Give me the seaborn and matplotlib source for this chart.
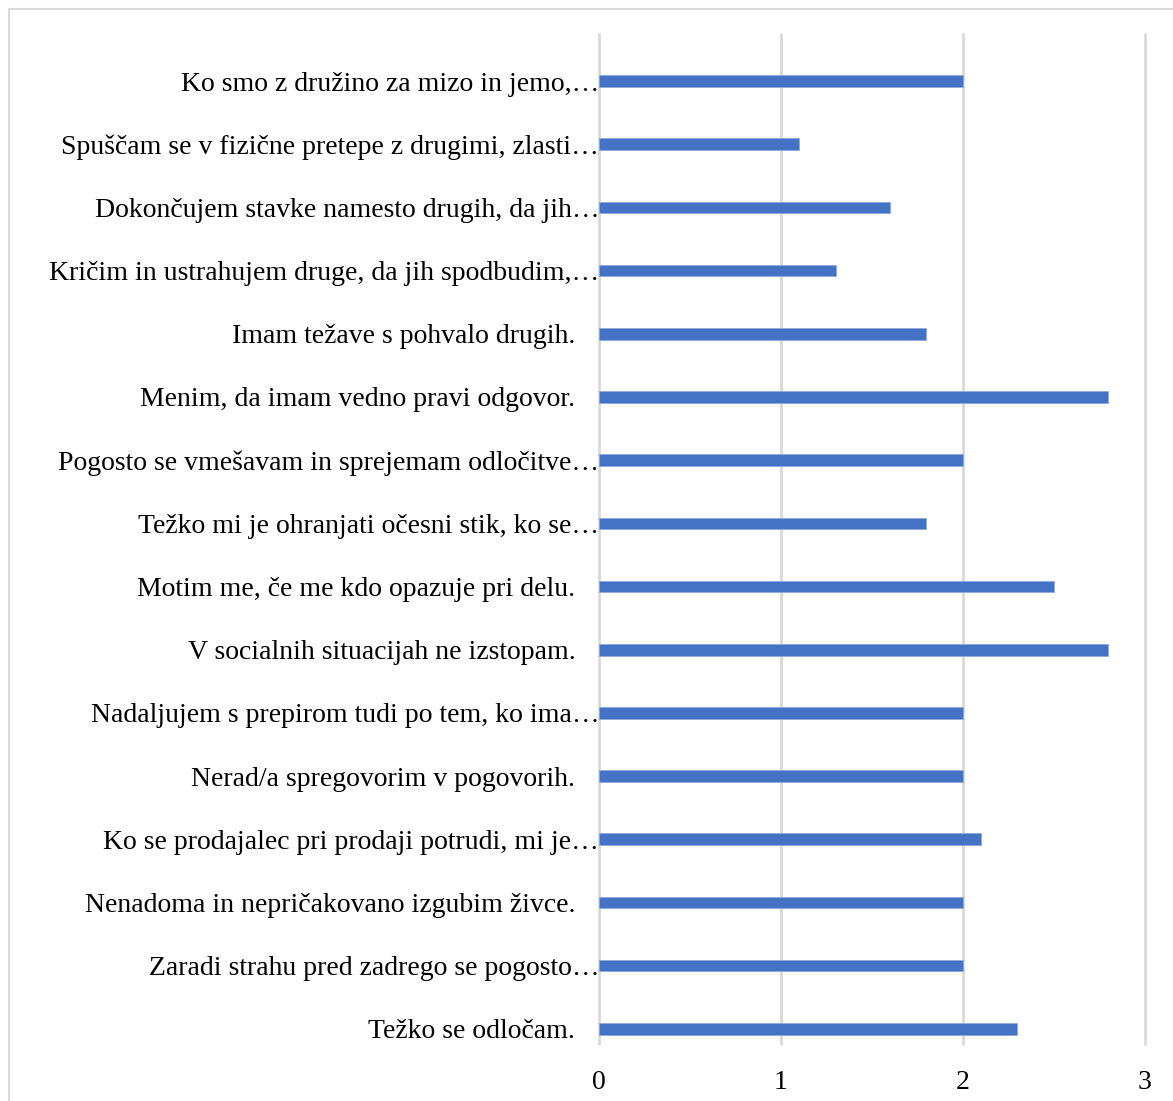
import matplotlib
matplotlib.use("Agg")
import matplotlib.pyplot as plt
import matplotlib.transforms as mtransforms
from matplotlib.patches import Rectangle
import seaborn as sns
import pandas as pd

# Survey statements (top to bottom) and their mean scores
statements = [
    "Ko smo z družino za mizo in jemo,…",
    "Spuščam se v fizične pretepe z drugimi, zlasti…",
    "Dokončujem stavke namesto drugih, da jih…",
    "Kričim in ustrahujem druge, da jih spodbudim,…",
    "Imam težave s pohvalo drugih.",
    "Menim, da imam vedno pravi odgovor.",
    "Pogosto se vmešavam in sprejemam odločitve…",
    "Težko mi je ohranjati očesni stik, ko se…",
    "Motim me, če me kdo opazuje pri delu.",
    "V socialnih situacijah ne izstopam.",
    "Nadaljujem s prepirom tudi po tem, ko ima…",
    "Nerad/a spregovorim v pogovorih.",
    "Ko se prodajalec pri prodaji potrudi, mi je…",
    "Nenadoma in nepričakovano izgubim živce.",
    "Zaradi strahu pred zadrego se pogosto…",
    "Težko se odločam.",
]
scores = [2.0, 1.1, 1.6, 1.3, 1.8, 2.8, 2.0, 1.8, 2.5, 2.8, 2.0, 2.0, 2.1, 2.0, 2.0, 2.3]
x_ticks = [0, 1, 2, 3]

df = pd.DataFrame({"statement": statements, "score": scores})

sns.set_theme(style="white")
plt.rcParams["font.family"] = ["Liberation Serif", "DejaVu Serif"]

W, H = 1173, 1101
fig = plt.figure(figsize=(W / 100, H / 100), dpi=100)
ax = fig.add_axes([599.3 / W, 1 - 1044 / H, (1144.5 - 599.3) / W, (1044 - 34) / H])

sns.barplot(data=df, y="statement", x="score", orient="h", order=statements,
            color="#4472C4", saturation=1, width=0.185, ax=ax,
            edgecolor="#8FAADC", linewidth=0.6, zorder=3)

ax.set_xlim(0, 3)
ax.set_ylim(15.24, -0.745)
ax.set_xticks(x_ticks)
ax.set_xticklabels([str(t) for t in x_ticks])
ax.set_xlabel("")
ax.set_ylabel("")

# light vertical gridlines, no spines
ax.grid(False)
for t in x_ticks:
    ax.axvline(t, color="#D9D9D9", linewidth=2, zorder=1, clip_on=False)
for s in ax.spines.values():
    s.set_visible(False)

ax.tick_params(axis="both", length=0, labelsize=20, labelcolor="#000000")
ax.tick_params(axis="x", pad=19)
ax.tick_params(axis="y", pad=0)

# full labels sit a little away from the axis; truncated ones run up to it
for lab in ax.get_yticklabels():
    if not lab.get_text().endswith("…"):
        lab.set_transform(lab.get_transform() +
                          mtransforms.ScaledTranslation(-24 / 100, 0, fig.dpi_scale_trans))

# chart frame
fig.patches.append(Rectangle((9 / W, -0.05), 1.1, 1 - 9 / H + 0.05,
                             transform=fig.transFigure, fill=False,
                             edgecolor="#D9D9D9", linewidth=1.5))

fig.savefig("out.png", dpi=100, facecolor="white")
